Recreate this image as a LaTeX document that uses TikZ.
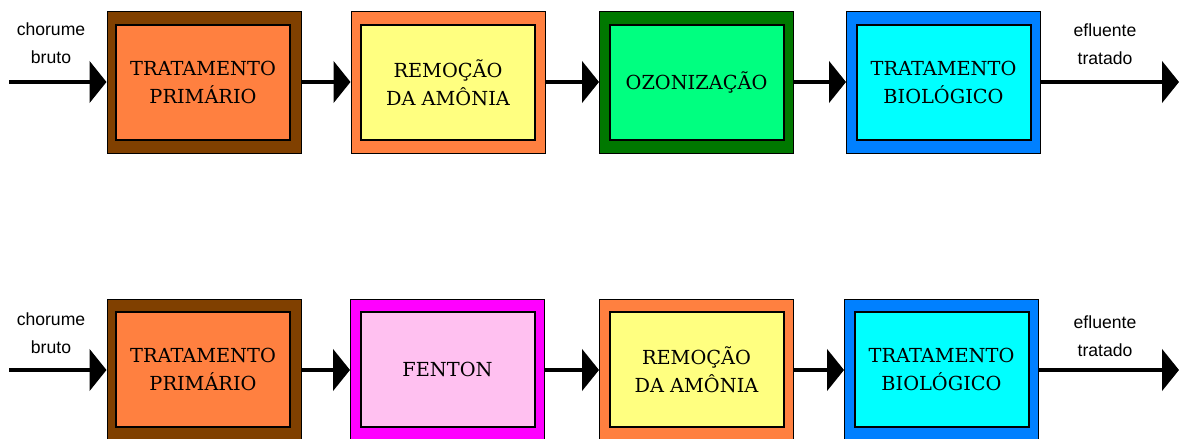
\documentclass[tikz,border=0pt]{standalone}
\usepackage{fontspec}
\setmainfont{DejaVu Serif}
\newfontfamily\lblfont{Liberation Sans}
\usetikzlibrary{arrows.meta}
\definecolor{cBrown}{HTML}{804000}
\definecolor{cOrange}{HTML}{FF8040}
\definecolor{cYellow}{HTML}{FFFF80}
\definecolor{cDGreen}{HTML}{007800}
\definecolor{cSGreen}{HTML}{00FF80}
\definecolor{cBlue}{HTML}{0080FF}
\definecolor{cCyan}{HTML}{00FFFF}
\definecolor{cMagenta}{HTML}{FF00FF}
\definecolor{cPink}{HTML}{FFC0F0}
\begin{document}
\begin{tikzpicture}[x=0.75pt,y=-0.75pt,
  outerbox/.style={draw=black, line width=0.75pt, fill=#1, minimum width=145.5pt, minimum height=106.5pt, inner sep=0pt},
  innerbox/.style={draw=black, line width=1.5pt, fill=#1, minimum width=130.5pt, minimum height=86.25pt, inner sep=0pt, align=center, font=\fontsize{14.5}{21}\selectfont},
  flow/.style={line width=3pt, -{Triangle[length=12.75pt,width=31pt]}},
  lbl/.style={font=\lblfont\fontsize{13.2}{21}\selectfont, align=center}
]
\useasboundingbox (0,0) rectangle (1179,439);

% top row
\node[outerbox=cBrown] (a1o) at (204,82) {};
\node[innerbox=cOrange] (a1) at (203,82.5) {TRATAMENTO\\PRIMÁRIO};
\node[outerbox=cOrange] (a2o) at (448,82) {};
\node[innerbox=cYellow] (a2) at (448,82.5) {REMOÇÃO\\DA AMÔNIA};
\node[outerbox=cDGreen] (a3o) at (696.5,82) {};
\node[innerbox=cSGreen] (a3) at (696.5,82.5) {OZONIZAÇÃO};
\node[outerbox=cBlue] (a4o) at (943.5,82) {};
\node[innerbox=cCyan] (a4) at (943.5,82.5) {TRATAMENTO\\BIOLÓGICO};
\coordinate (ain) at (9,82);
\coordinate (aout) at (1179,82);
\node[lbl] (alin) at (51,43) {chorume\\bruto};
\node[lbl] (alout) at (1105,44) {efluente\\tratado};
\draw[flow] (ain) -- (a1o.west);
\draw[flow] (a1o.east) -- (a2o.west);
\draw[flow] (a2o.east) -- (a3o.west);
\draw[flow] (a3o.east) -- (a4o.west);
\draw[flow] (a4o.east) -- (aout);

% bottom row
\node[outerbox=cBrown] (b1o) at (204,370) {};
\node[innerbox=cOrange] (b1) at (203,369.5) {TRATAMENTO\\PRIMÁRIO};
\node[outerbox=cMagenta] (b2o) at (447.5,370) {};
\node[innerbox=cPink] (b2) at (447.5,369.5) {FENTON};
\node[outerbox=cOrange] (b3o) at (696.5,370) {};
\node[innerbox=cYellow] (b3) at (696.5,369.5) {REMOÇÃO\\DA AMÔNIA};
\node[outerbox=cBlue] (b4o) at (941.5,370) {};
\node[innerbox=cCyan] (b4) at (941.5,369.5) {TRATAMENTO\\BIOLÓGICO};
\coordinate (bin) at (9,370);
\coordinate (bout) at (1179,370);
\node[lbl] (blin) at (51,333) {chorume\\bruto};
\node[lbl] (blout) at (1105,336) {efluente\\tratado};
\draw[flow] (bin) -- (b1o.west);
\draw[flow] (b1o.east) -- (b2o.west);
\draw[flow] (b2o.east) -- (b3o.west);
\draw[flow] (b3o.east) -- (b4o.west);
\draw[flow] (b4o.east) -- (bout);
\end{tikzpicture}
\end{document}
